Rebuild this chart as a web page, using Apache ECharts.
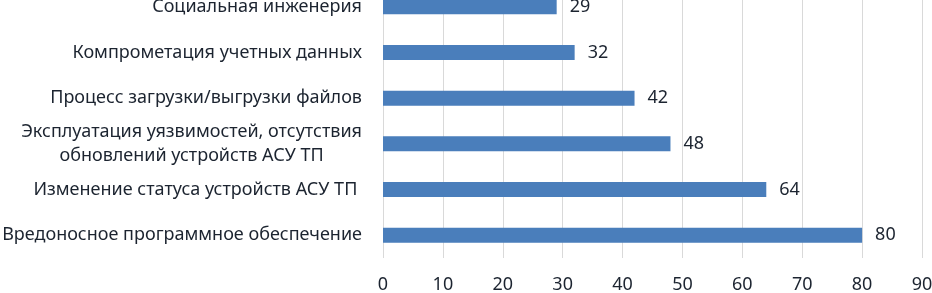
<!DOCTYPE html>
<html>
<head>
<meta charset="utf-8">
<script src="https://cdn.jsdelivr.net/npm/echarts@6/dist/echarts.min.js"></script>
<style>
html,body{margin:0;padding:0;background:#fff;}
#chart{width:932px;height:293px;}
</style>
</head>
<body>
<div id="chart"></div>
<script>
const categories = [
  'Социальная инженерия',
  'Компрометация учетных данных',
  'Процесс загрузки/выгрузки файлов',
  'Эксплуатация уязвимостей, отсутствия\nобновлений устройств АСУ ТП',
  'Изменение статуса устройств АСУ ТП ',
  'Вредоносное программное обеспечение'
];
const values = [29, 32, 42, 48, 64, 80];
const xTicks = { min: 0, max: 90, interval: 10 };

const FONT = 'Noto Sans';
const TEXT = '#1c2430';

const chart = echarts.init(document.getElementById('chart'), null, { renderer: 'canvas' });
chart.setOption({
  animation: false,
  backgroundColor: '#ffffff',
  grid: { left: 383, right: 10, top: -16, bottom: 35, containLabel: false, outerBoundsMode: 'none' },
  xAxis: {
    type: 'value',
    min: xTicks.min, max: xTicks.max, interval: xTicks.interval,
    axisLine: { show: false },
    axisTick: { show: false },
    splitLine: { show: true, lineStyle: { color: '#d9d9d9', width: 1 } },
    axisLabel: { color: TEXT, fontSize: 18, fontFamily: FONT, margin: 18 }
  },
  yAxis: {
    type: 'category',
    data: categories,
    inverse: true,
    axisLine: { show: false },
    axisTick: { show: false },
    axisLabel: {
      color: TEXT, fontSize: 18, fontFamily: FONT, margin: 21,
      formatter: function (v) {
        if (v.indexOf('\n') >= 0) {
          return v.split('\n').map(function (s) { return '{c|' + s + '}'; }).join('\n');
        }
        return v;
      },
      rich: { c: { align: 'center', color: TEXT, fontSize: 18, fontFamily: FONT, lineHeight: 24 } }
    }
  },
  series: [{
    type: 'bar',
    data: values,
    barWidth: 15,
    itemStyle: { color: '#4a7ebb' },
    label: { show: true, position: 'right', distance: 13, color: TEXT, fontSize: 18, fontFamily: FONT }
  }]
});
</script>
</body>
</html>
